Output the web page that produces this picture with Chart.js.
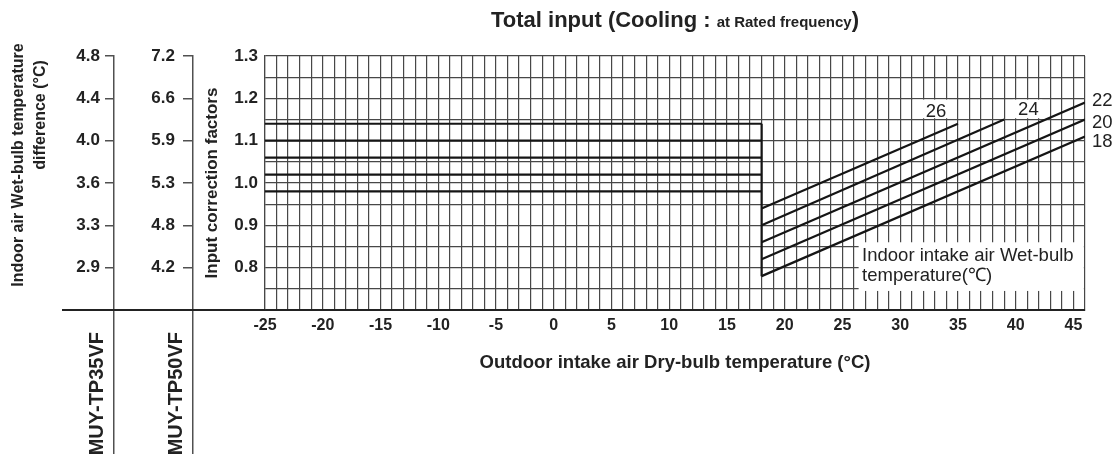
<!DOCTYPE html>
<html>
<head>
<meta charset="utf-8">
<script src="https://cdn.jsdelivr.net/npm/chart.js@4.4.1/dist/chart.umd.min.js"></script>
<style>
html, body { margin: 0; padding: 0; background: #fff; }
#wrap { width: 1117px; height: 454px; position: relative; }
</style>
</head>
<body>
<div id="wrap"><canvas id="inputChart"></canvas></div>
<script>
// indoor intake air wet-bulb temperatures (°C), one curve each
var wbTemps = [26, 24, 22, 20, 18];
// constant factor for outdoor temps below 18°C
var flatStartX = -25;
var flatFactors = [1.14, 1.10, 1.06, 1.02, 0.98];
// rising part, from 18°C outdoor
var slopeStartX = 18;
var slopeStartFactors = [0.94, 0.90, 0.86, 0.82, 0.78];
var slopeEndX = [35, 39, 46, 46, 46];
var slopeEndFactors = [1.14, 1.15, 1.19, 1.15, 1.11];

// axis ticks
var tempTicks = [-25, -20, -15, -10, -5, 0, 5, 10, 15, 20, 25, 30, 35, 40, 45];
var factorTicks = [0.8, 0.9, 1.0, 1.1, 1.2, 1.3];
var wbDiff35 = ['2.9', '3.3', '3.6', '4.0', '4.4', '4.8'];
var wbDiff50 = ['4.2', '4.8', '5.3', '5.9', '6.6', '7.2'];
var xMin = -25, xMax = 46, yMin = 0.7, yMax = 1.3;

var FONT = '"Liberation Sans", Arial, Helvetica, sans-serif';
var gridColor = '#474747';
var axisColor = '#505050';
var inkColor = '#151515';

Chart.defaults.font.family = FONT;
Chart.defaults.color = '#222';

var datasets = [];
wbTemps.forEach(function (t, i) {
    datasets.push({
        label: t + ' (below 18)',
        data: [{x: flatStartX, y: flatFactors[i]}, {x: slopeStartX, y: flatFactors[i]}]
    });
    datasets.push({
        label: String(t),
        data: [{x: slopeStartX, y: slopeStartFactors[i]}, {x: slopeEndX[i], y: slopeEndFactors[i]}]
    });
});
datasets.push({
    label: 'bracket',
    data: [{x: slopeStartX, y: flatFactors[0]}, {x: slopeStartX, y: slopeStartFactors[slopeStartFactors.length - 1]}]
});
datasets.forEach(function (d) {
    d.showLine = true;
    d.borderColor = inkColor;
    d.borderWidth = 2.2;
    d.pointRadius = 0;
    d.fill = false;
});

// white label backgrounds (data coords)
var boxes = [
    {x0: 31.1, x1: 34.2, y0: 1.153, y1: 1.197},
    {x0: 39.8, x1: 42.3, y0: 1.153, y1: 1.197},
    {x0: 26.4, x1: 45.9, y0: 0.745, y1: 0.86}
];
var notes = [
    {text: '26', x: 33.1, y: 1.168, align: 'center'},
    {text: '24', x: 41.1, y: 1.173, align: 'center'},
    {text: '22', x: 46.6, y: 1.194, align: 'left'},
    {text: '20', x: 46.6, y: 1.142, align: 'left'},
    {text: '18', x: 46.6, y: 1.097, align: 'left'},
    {text: 'Indoor intake air Wet-bulb', x: 26.7, y: 0.828, align: 'left'},
    {text: 'temperature(\u2103)', x: 26.7, y: 0.781, align: 'left'}
];

function isFactorTick(v) {
    return factorTicks.some(function (t) { return Math.abs(t - v) < 1e-6; });
}
function align(px, w) {
    return Math.round(px - w / 2) + w / 2;
}

var extras = {
    id: 'extras',
    beforeDatasetsDraw: function (chart) {
        var ctx = chart.ctx, xs = chart.scales.x, ys = chart.scales.y;
        ctx.save();
        ctx.fillStyle = '#fff';
        boxes.forEach(function (b) {
            var l = xs.getPixelForValue(b.x0), r = xs.getPixelForValue(b.x1);
            var t = ys.getPixelForValue(b.y1), btm = ys.getPixelForValue(b.y0);
            ctx.fillRect(l, t, r - l, btm - t);
        });
        ctx.restore();
    },
    afterDatasetsDraw: function (chart) {
        var ctx = chart.ctx, xs = chart.scales.x, ys = chart.scales.y;
        ctx.save();
        ctx.fillStyle = '#222';
        ctx.font = '18.5px ' + FONT;
        ctx.textBaseline = 'middle';
        notes.forEach(function (n) {
            ctx.textAlign = n.align;
            ctx.fillText(n.text, xs.getPixelForValue(n.x), ys.getPixelForValue(n.y));
        });
        ctx.restore();
    },
    afterDraw: function (chart) {
        var ctx = chart.ctx, area = chart.chartArea;
        var y35 = chart.scales.y35, y50 = chart.scales.y50;
        ctx.save();

        // title with mixed sizes
        var p1 = 'Total input (Cooling : ', p2 = 'at Rated frequency', p3 = ')';
        var big = 'bold 22px ' + FONT, small = 'bold 15px ' + FONT;
        ctx.font = big;
        var w1 = ctx.measureText(p1).width, w3 = ctx.measureText(p3).width;
        ctx.font = small;
        var w2 = ctx.measureText(p2).width;
        var x = (area.left + area.right) / 2 - (w1 + w2 + w3) / 2;
        ctx.fillStyle = '#222';
        ctx.textAlign = 'left';
        ctx.textBaseline = 'alphabetic';
        ctx.font = big; ctx.fillText(p1, x, 27);
        ctx.font = small; ctx.fillText(p2, x + w1, 27);
        ctx.font = big; ctx.fillText(p3, x + w1 + w2, 27);

        // lines of the left panel below the plot
        var b = chart.height;
        ctx.strokeStyle = axisColor;
        ctx.lineWidth = 1.5;
        [y35.right, y50.right].forEach(function (r) {
            var px = align(r, 1.5);
            ctx.beginPath();
            ctx.moveTo(px, area.bottom);
            ctx.lineTo(px, b);
            ctx.stroke();
        });
        ctx.strokeStyle = '#222';
        ctx.lineWidth = 2;
        ctx.beginPath();
        ctx.moveTo(62, align(area.bottom, 2));
        ctx.lineTo(area.left, align(area.bottom, 2));
        ctx.stroke();

        // rotated texts
        ctx.fillStyle = '#222';
        ctx.textBaseline = 'middle';
        function vtext(s, cx, cy, al, font) {
            ctx.save();
            ctx.translate(cx, cy);
            ctx.rotate(-Math.PI / 2);
            ctx.font = font;
            ctx.textAlign = al;
            ctx.fillText(s, 0, 0);
            ctx.restore();
        }
        vtext('Indoor air Wet-bulb temperature', 19, 165, 'center', 'bold 16px ' + FONT);
        vtext('difference (\u00B0C)', 41, 115, 'center', 'bold 16px ' + FONT);
        vtext('MUY-TP35VF', y35.right - 17, 332, 'right', 'bold 20px ' + FONT);
        vtext('MUY-TP50VF', y50.right - 17, 332, 'right', 'bold 20px ' + FONT);
        ctx.restore();
    }
};

var config = {
    type: 'scatter',
    data: { datasets: datasets },
    options: {
        responsive: true,
        maintainAspectRatio: false,
        animation: false,
        layout: { padding: { top: 56, right: 32, bottom: 0, left: 0 } },
        plugins: {
            legend: { display: false },
            tooltip: { enabled: false }
        },
        scales: {
            x: {
                type: 'linear',
                min: xMin,
                max: xMax,
                afterBuildTicks: function (s) {
                    var t = [];
                    for (var v = xMin; v <= xMax; v++) t.push({value: v});
                    s.ticks = t;
                },
                afterFit: function (s) { s.height = 144; },
                grid: { color: gridColor, lineWidth: 1.2, drawTicks: false },
                border: { display: true, color: '#222', width: 2 },
                ticks: {
                    autoSkip: false,
                    maxRotation: 0,
                    padding: 6,
                    font: { size: 16, weight: 'bold' },
                    callback: function (v) { return tempTicks.indexOf(v) >= 0 ? String(v) : ''; }
                },
                title: {
                    display: true,
                    text: 'Outdoor intake air Dry-bulb temperature (\u00B0C)',
                    font: { size: 18.5, weight: 'bold' },
                    padding: { top: 0, bottom: 80 }
                }
            },
            y: {
                type: 'linear',
                position: 'left',
                weight: 0,
                min: yMin,
                max: yMax,
                afterBuildTicks: function (s) {
                    var t = [];
                    for (var k = 70; k <= 130; k += 5) t.push({value: k / 100});
                    s.ticks = t;
                },
                afterFit: function (s) { s.width = 72; },
                grid: { color: gridColor, lineWidth: 1.2, drawTicks: false },
                border: { display: true, color: gridColor, width: 1.2 },
                ticks: {
                    autoSkip: false,
                    padding: 7,
                    font: { size: 17, weight: 'bold' },
                    callback: function (v) { return isFactorTick(v) ? v.toFixed(1) : ''; }
                },
                title: {
                    display: true,
                    text: 'Input correction factors',
                    font: { size: 17, weight: 'bold' },
                    padding: { top: 9, bottom: 0 }
                }
            },
            y50: {
                type: 'linear',
                position: 'left',
                weight: 1,
                min: yMin,
                max: yMax,
                afterBuildTicks: function (s) {
                    s.ticks = factorTicks.map(function (v) { return {value: v}; });
                },
                afterFit: function (s) { s.width = 79; },
                grid: { drawOnChartArea: false, tickLength: 10, color: axisColor, lineWidth: 1.5 },
                border: { display: true, color: axisColor, width: 1.5 },
                ticks: {
                    autoSkip: false,
                    padding: 8,
                    font: { size: 17, weight: 'bold' },
                    callback: function (v, i) { return wbDiff50[i]; }
                }
            },
            y35: {
                type: 'linear',
                position: 'left',
                weight: 2,
                min: yMin,
                max: yMax,
                afterBuildTicks: function (s) {
                    s.ticks = factorTicks.map(function (v) { return {value: v}; });
                },
                afterFit: function (s) { s.width = 114; },
                grid: { drawOnChartArea: false, tickLength: 9, color: axisColor, lineWidth: 1.5 },
                border: { display: true, color: axisColor, width: 1.5 },
                ticks: {
                    autoSkip: false,
                    padding: 5,
                    font: { size: 17, weight: 'bold' },
                    callback: function (v, i) { return wbDiff35[i]; }
                }
            }
        }
    },
    plugins: [extras]
};

var ctx = document.getElementById('inputChart');
var inputChart = new Chart(ctx, config);
</script>
</body>
</html>
